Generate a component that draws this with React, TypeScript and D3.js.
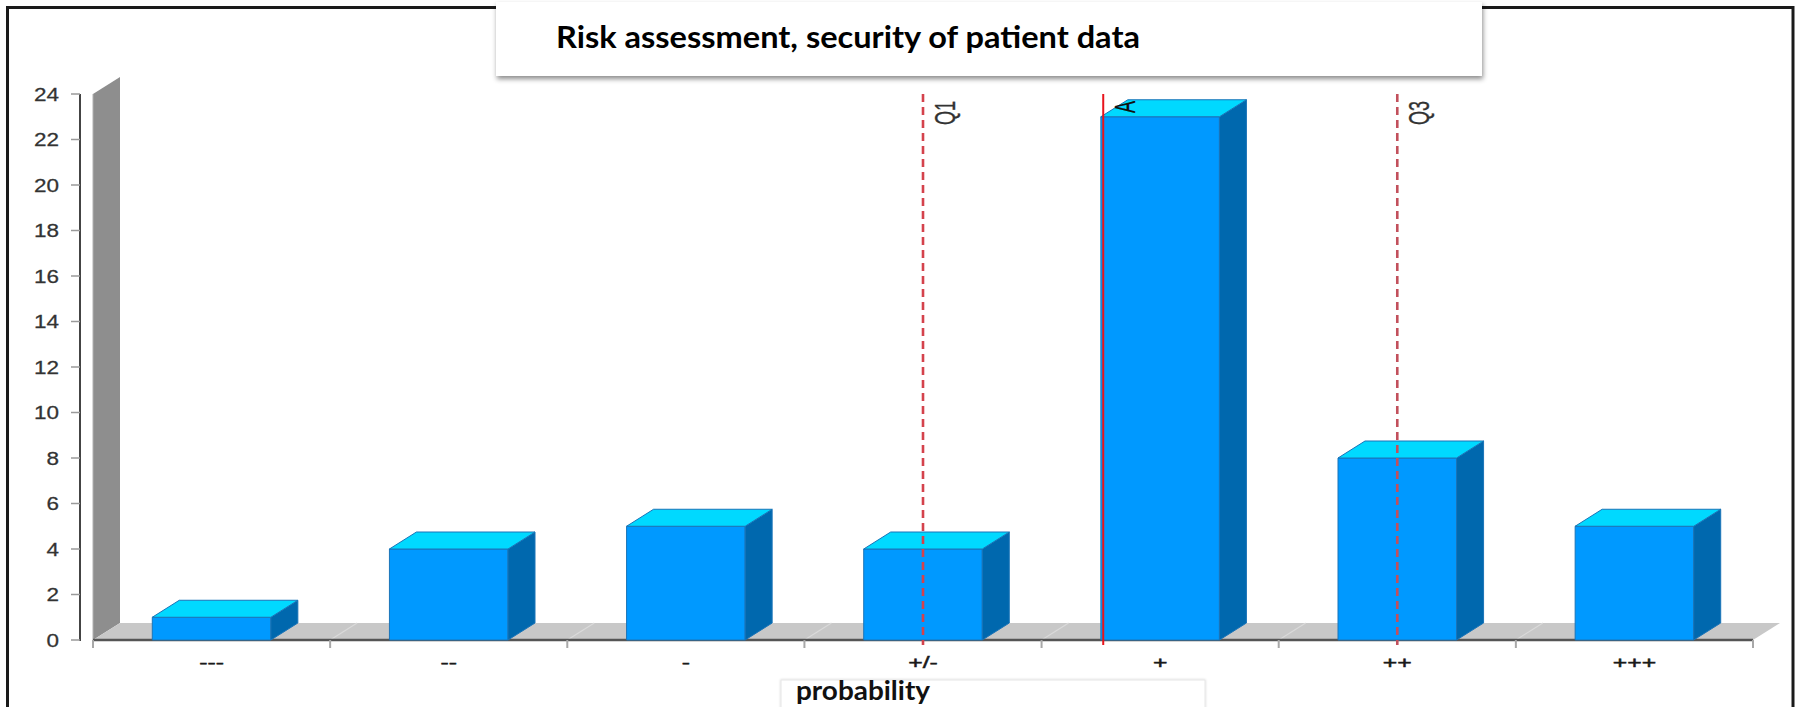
import React from "react";
import * as d3 from "d3";

// Response counts per probability rating
const categories = ["---", "--", "-", "+/-", "+", "++", "+++"];
const counts = [1, 4, 5, 4, 23, 8, 5];

// Score scale of the ratings (-3 .. +3), used to place the statistic markers
const scoreDomain = [-3, 3];

// Statistic markers: first quartile, average, third quartile
const markerLabels = ["Q1", "A", "Q3"];
const markerValues = [0, 0.76, 2];
const markerDashed = [true, false, true];
const markerColors = ["#d4424c", "#e8141c", "#c2505c"];

// Value axis ticks
const yTickValues = [0, 2, 4, 6, 8, 10, 12, 14, 16, 18, 20, 22, 24];

const titleText = "Risk assessment, security of patient data";
const xTitleText = "probability";

const W = 1796;
const H = 707;

export default function App() {
  const plotLeft = 93;
  const plotRight = 1753;
  const baseY = 640;
  const topY = 94;
  const DX = 27;
  const DY = -17;

  const x = d3.scaleBand<string>().domain(categories).range([plotLeft, plotRight]).padding(0);
  const bw = x.bandwidth();
  const y = d3.scaleLinear().domain([0, 24]).range([baseY, topY]);
  const score = d3
    .scaleLinear()
    .domain(scoreDomain)
    .range([(x(categories[0]) as number) + bw / 2, (x(categories[categories.length - 1]) as number) + bw / 2]);

  const barW = bw * 0.5;
  const axisFont = "'Liberation Sans', Arial, sans-serif";
  const titleFont = "Lato, 'Open Sans', sans-serif";

  const boundaries = d3.range(categories.length + 1).map((i) => plotLeft + i * bw);

  const pts = (arr: [number, number][]) => arr.map((p) => p.join(",")).join(" ");

  return (
    <svg
      width={W}
      height={H}
      viewBox={`0 0 ${W} ${H}`}
      style={{ position: "absolute", left: 0, top: 0, display: "block", background: "#fff" }}
    >
      <defs>
        <filter id="titleShadow" x="-5%" y="-30%" width="110%" height="170%">
          <feDropShadow dx="1" dy="3" stdDeviation="2.5" floodColor="#000" floodOpacity="0.45" />
        </filter>
        <filter id="boxShadow" x="-5%" y="-30%" width="110%" height="170%">
          <feDropShadow dx="0" dy="0" stdDeviation="1.2" floodColor="#000" floodOpacity="0.18" />
        </filter>
      </defs>

      {/* frame */}
      <rect x={7.5} y={7.5} width={1785.5} height={760} fill="#fff" stroke="#1a1a1a" strokeWidth={3} />

      {/* back wall */}
      <polygon
        points={pts([
          [plotLeft, baseY],
          [plotLeft, topY],
          [plotLeft + DX, topY + DY],
          [plotLeft + DX, baseY + DY],
        ])}
        fill="#8e8e8e"
      />
      <line x1={plotLeft} y1={topY} x2={plotLeft} y2={baseY} stroke="#b0b0b0" strokeWidth={1} />

      {/* floor */}
      <polygon
        points={pts([
          [plotLeft, baseY],
          [plotRight, baseY],
          [plotRight + DX, baseY + DY],
          [plotLeft + DX, baseY + DY],
        ])}
        fill="#c8c8c8"
      />
      {boundaries.slice(1, -1).map((bx, i) => (
        <line key={"fl" + i} x1={bx} y1={baseY} x2={bx + DX} y2={baseY + DY} stroke="#dadada" strokeWidth={1.2} />
      ))}

      {/* x axis */}
      <line x1={plotLeft} y1={baseY} x2={plotRight} y2={baseY} stroke="#555" strokeWidth={2.5} />
      {boundaries.map((bx, i) => (
        <line key={"xt" + i} x1={bx} y1={baseY} x2={bx} y2={baseY + 8} stroke="#a8a8a8" strokeWidth={2} />
      ))}
      {categories.map((c) => (
        <text
          key={"xl" + c}
          transform={`translate(${(x(c) as number) + bw / 2},668) scale(1.55,1)`}
          textAnchor="middle"
          fontFamily={axisFont}
          fontSize={16}
          fill="#1a1a1a"
          stroke="#1a1a1a"
          strokeWidth={0.45}
        >
          {c}
        </text>
      ))}

      {/* y axis */}
      <line x1={80} y1={topY} x2={80} y2={baseY + 1} stroke="#444" strokeWidth={2} />
      {yTickValues.map((t) => (
        <g key={"yt" + t}>
          <line x1={71} y1={y(t)} x2={80} y2={y(t)} stroke="#9a9a9a" strokeWidth={1.5} />
          <text
            transform={`translate(59,${y(t) + 6.5}) scale(1.25,1)`}
            textAnchor="end"
            fontFamily={axisFont}
            fontSize={18}
            fill="#333"
            stroke="#333"
            strokeWidth={0.25}
          >
            {t}
          </text>
        </g>
      ))}

      {/* bars */}
      {categories.map((c, i) => {
        const x0 = (x(c) as number) + (bw - barW) / 2;
        const x1 = x0 + barW;
        const yt = y(counts[i]);
        return (
          <g key={"bar" + c} stroke="#1a74b8" strokeWidth={1} strokeLinejoin="round">
            <rect x={x0} y={yt} width={barW} height={baseY - yt} fill="#0099ff" />
            <polygon
              points={pts([
                [x1, yt],
                [x1 + DX, yt + DY],
                [x1 + DX, baseY + DY],
                [x1, baseY],
              ])}
              fill="#0068ae"
            />
            <polygon
              points={pts([
                [x0, yt],
                [x0 + DX, yt + DY],
                [x1 + DX, yt + DY],
                [x1, yt],
              ])}
              fill="#00d9ff"
            />
          </g>
        );
      })}

      {/* statistic markers */}
      {markerLabels.map((lab, i) => {
        const mx = score(markerValues[i]);
        return (
          <g key={"mk" + lab}>
            <line
              x1={mx}
              y1={topY}
              x2={mx}
              y2={baseY + 5}
              stroke={markerColors[i]}
              strokeWidth={markerDashed[i] ? 2.6 : 2}
              strokeDasharray={markerDashed[i] ? "8 5" : undefined}
            />
            <text
              transform={`translate(${mx + 32},101) scale(1.6,1) rotate(-90)`}
              textAnchor="end"
              fontFamily={axisFont}
              fontSize={18}
              fill={lab === "A" ? "#111" : "#333"}
              stroke={lab === "A" ? "#111" : "#333"}
              strokeWidth={0.2}
            >
              {lab}
            </text>
          </g>
        );
      })}

      {/* title box */}
      <rect x={496} y={2} width={986} height={74} fill="#fff" filter="url(#titleShadow)" />
      <text
        x={556}
        y={48}
        fontFamily={titleFont}
        fontWeight={700}
        fontSize={31}
        fill="#000"
        textLength={584}
        lengthAdjust="spacingAndGlyphs"
      >
        {titleText}
      </text>

      {/* axis title box */}
      <rect x={781} y={680} width={424} height={50} fill="#fff" stroke="#e6e6e6" strokeWidth={1} filter="url(#boxShadow)" />
      <text
        x={796}
        y={700}
        fontFamily={titleFont}
        fontWeight={700}
        fontSize={26}
        fill="#111"
        textLength={134}
        lengthAdjust="spacingAndGlyphs"
      >
        {xTitleText}
      </text>
    </svg>
  );
}
